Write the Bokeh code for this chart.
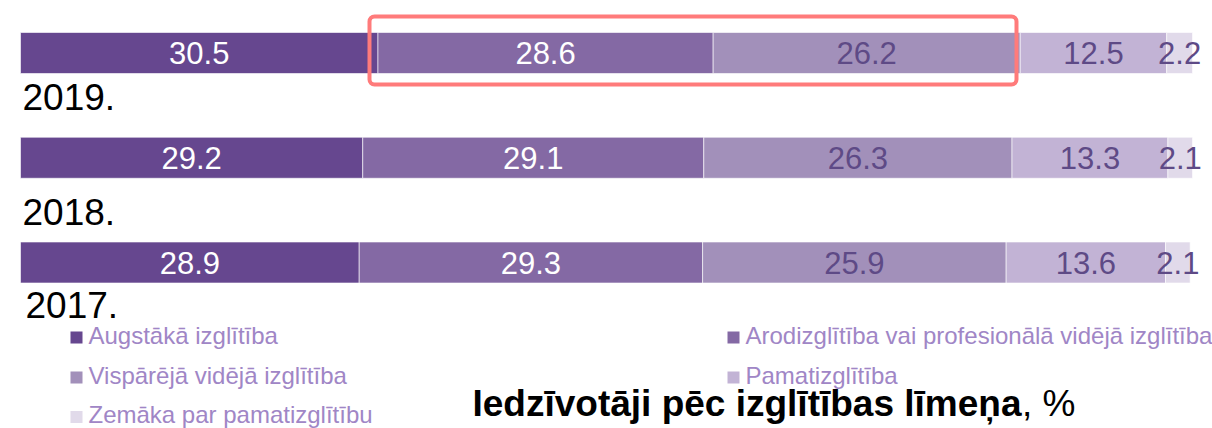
from bokeh.plotting import figure
from bokeh.models import Range1d
from bokeh.core.properties import value
from bokeh.embed import file_html
from bokeh.resources import INLINE

# ---- data ----
years = ["2019.", "2018.", "2017."]
categories = [
    "Augstākā izglītība",
    "Arodizglītība vai profesionālā vidējā izglītība",
    "Vispārējā vidējā izglītība",
    "Pamatizglītība",
    "Zemāka par pamatizglītību",
]
augstaka = [30.5, 29.2, 28.9]
arodizglitiba = [28.6, 29.1, 29.3]
visparejaa = [26.2, 26.3, 25.9]
pamatizglitiba = [12.5, 13.3, 13.6]
zemaka = [2.2, 2.1, 2.1]
series = [augstaka, arodizglitiba, visparejaa, pamatizglitiba, zemaka]
title_bold = "Iedzīvotāji pēc izglītības līmeņa"
title_rest = ", %"

# ---- styles ----
colors = ["#66478F", "#8469A4", "#A290BA", "#C2B3D5", "#E1DAEA"]
label_colors = ["white", "white", "#5E4A86", "#5E4A86", "#5E4A86"]
legend_text_color = "#A086C6"
FONT = "Liberation Sans"

# ---- layout (pixels) ----
W, H = 1212, 428
X0, PX_PER = 20, 11.72          # x pixel of 0 %, pixels per %
Y0, ROW = 52.5, 104.75          # pixel centre of first bar, row spacing
BAR_H = 41
BASE_FIX = 0.39                 # baseline correction (fraction of font size)


def xd(px):
    return (px - X0) / PX_PER


def yd(py):
    return (py - Y0) / ROW


def base(py, fs):
    """data y for a desired alphabetic baseline pixel py at font size fs"""
    return yd(py - BASE_FIX * fs)


p = figure(width=W, height=H, output_backend="svg", toolbar_location=None,
           x_range=Range1d(xd(0), xd(W)), y_range=Range1d(yd(H), yd(0)),
           x_axis_location=None, y_axis_location=None, min_border=0,
           background_fill_color="white", border_fill_color="white")
p.grid.visible = False
p.outline_line_color = None

idx = list(range(len(years)))

# stacked bars
VAL_FS = 31
left = [0.0] * len(years)
for k, vals in enumerate(series):
    right = [l + v for l, v in zip(left, vals)]
    p.hbar(y=idx, left=left, right=right, height=BAR_H / ROW,
           fill_color=colors[k], line_color="white", line_width=1, line_alpha=0.6)
    mids = [(l + r) / 2 for l, r in zip(left, right)]
    p.text(x=mids, y=[i + base(Y0 + 12.5, VAL_FS) for i in idx],
           text=[str(v) for v in vals],
           text_align="center", text_baseline="alphabetic",
           text_font=value(FONT), text_font_size=f"{VAL_FS}px", text_color=label_colors[k])
    left = right

# year labels
YEAR_FS = 37
year_dx = [22, 22, 25]
year_dy = [58.5, 69, 57]
p.text(x=[xd(px) for px in year_dx],
       y=[i + base(Y0 + dy, YEAR_FS) for i, dy in zip(idx, year_dy)],
       text=years, text_align="left", text_baseline="alphabetic",
       text_font=value(FONT), text_font_size=f"{YEAR_FS}px", text_color="black")

# highlight box
p.quad(left=[xd(369)], right=[xd(1016)], top=[yd(16)], bottom=[yd(84)],
       fill_color=None, line_color="#FF7B7B", line_width=4, border_radius=5)

# legend (manual, two columns)
LEG_FS = 24
col_sq = [76, 733]
col_tx = [88, 745]
row_cy = [337, 377, 416.5]
for k, name in enumerate(categories):
    c, r = k % 2, k // 2
    p.rect(x=[xd(col_sq[c])], y=[yd(row_cy[r])], width=12, height=12,
           width_units="screen", height_units="screen",
           fill_color=colors[k], line_color=None)
    p.text(x=[xd(col_tx[c])], y=[base(row_cy[r] + 7, LEG_FS)], text=[name],
           text_align="left", text_baseline="alphabetic",
           text_font=value(FONT), text_font_size=f"{LEG_FS}px", text_color=legend_text_color)

# title
TITLE_FS = 37
p.text(x=[xd(472)], y=[base(417, TITLE_FS)], text=[title_bold], text_align="left",
       text_baseline="alphabetic", text_font=value(FONT), text_font_size=f"{TITLE_FS}px",
       text_font_style="bold", text_color="black")
p.text(x=[xd(1075)], y=[base(417, TITLE_FS)], text=[title_rest], text_align="right",
       text_baseline="alphabetic", text_font=value(FONT), text_font_size=f"{TITLE_FS}px",
       text_color="black")

open("out.html", "w").write(file_html(p, INLINE))
